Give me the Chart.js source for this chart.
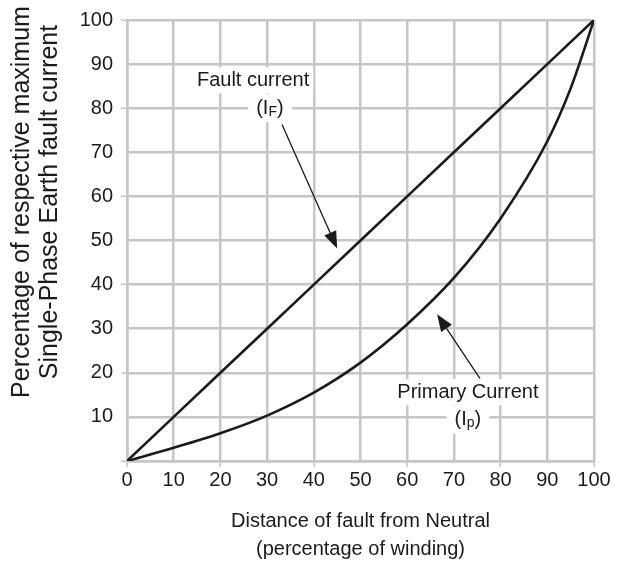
<!DOCTYPE html>
<html>
<head>
<meta charset="utf-8">
<script src="https://cdn.jsdelivr.net/npm/chart.js@4"></script>
<style>
  html, body { margin: 0; padding: 0; background: #fff; }
  #wrap { width: 619px; height: 565px; }
</style>
</head>
<body>
<div id="wrap"><canvas id="faultChart"></canvas></div>
<script>
// distance of fault from neutral (% of winding)
const faultDistance = [0, 10, 20, 30, 40, 50, 60, 70, 80, 90, 100];
const faultCurrent = [0, 10, 20, 30, 40, 50, 60, 70, 80, 90, 100];
const primaryDistance = [0, 10, 20, 30, 40, 50, 60, 70, 80, 90, 95, 100];
const primaryCurrent = [0, 3, 6.3, 10.3, 15.5, 22.3, 31, 41.5, 55, 72.5, 84.5, 100];
const tickValues = [0, 10, 20, 30, 40, 50, 60, 70, 80, 90, 100];

const xTitle = ['Distance of fault from Neutral', '(percentage of winding)'];
const yTitle = ['Percentage of respective maximum', 'Single-Phase Earth fault current'];

const FONT = "'Liberation Sans', Arial, sans-serif";
const GRID = '#c6c6c6';
const INK = '#1b1b1b';

// callouts, in data units
const callouts = [
  { text: 'Fault current', sub: 'F', at: [27, 86.3], subAt: [30.6, 80], from: [33.2, 76.3], to: [45, 48.2] },
  { text: 'Primary Current', sub: 'p', at: [73, 15.6], subAt: [73, 9.4], from: [75.6, 18.7], to: [66.4, 33.3] }
];

const toPoints = (xs, ys) => xs.map((x, i) => ({ x: x, y: ys[i] }));

function drawArrow(ctx, x1, y1, x2, y2) {
  const ang = Math.atan2(y2 - y1, x2 - x1);
  const len = 17, half = 6.5;
  const bx = x2 - len * Math.cos(ang), by = y2 - len * Math.sin(ang);
  ctx.strokeStyle = INK;
  ctx.lineWidth = 1.3;
  ctx.beginPath();
  ctx.moveTo(x1, y1);
  ctx.lineTo(bx, by);
  ctx.stroke();
  ctx.fillStyle = INK;
  ctx.beginPath();
  ctx.moveTo(x2, y2);
  ctx.lineTo(bx + half * Math.sin(ang), by - half * Math.cos(ang));
  ctx.lineTo(bx - half * Math.sin(ang), by + half * Math.cos(ang));
  ctx.closePath();
  ctx.fill();
}

const extras = {
  id: 'extras',
  afterDraw(chart) {
    const ctx = chart.ctx;
    const xs = chart.scales.x, ys = chart.scales.y;
    ctx.save();

    callouts.forEach(c => {
      // main label
      ctx.font = '20px ' + FONT;
      ctx.textAlign = 'center';
      ctx.textBaseline = 'middle';
      const lx = xs.getPixelForValue(c.at[0]), ly = ys.getPixelForValue(c.at[1]);
      const w = ctx.measureText(c.text).width;
      ctx.fillStyle = '#fff';
      ctx.fillRect(lx - w / 2 - 4, ly - 13, w + 8, 26);
      ctx.fillStyle = INK;
      ctx.fillText(c.text, lx, ly);

      // (I_sub)
      const sx = xs.getPixelForValue(c.subAt[0]), sy = ys.getPixelForValue(c.subAt[1]);
      ctx.font = '20px ' + FONT;
      const wOpen = ctx.measureText('(I').width;
      const wClose = ctx.measureText(')').width;
      ctx.font = '14px ' + FONT;
      const wSub = ctx.measureText(c.sub).width;
      const total = wOpen + wSub + wClose;
      ctx.fillStyle = '#fff';
      ctx.fillRect(sx - total / 2 - 8, sy - 14, total + 16, 28);
      ctx.fillStyle = INK;
      ctx.textAlign = 'left';
      let px = sx - total / 2;
      ctx.font = '20px ' + FONT;
      ctx.fillText('(I', px, sy);
      px += wOpen;
      ctx.font = '14px ' + FONT;
      ctx.fillText(c.sub, px, sy + 4);
      px += wSub;
      ctx.font = '20px ' + FONT;
      ctx.fillText(')', px, sy);

      drawArrow(ctx,
        xs.getPixelForValue(c.from[0]), ys.getPixelForValue(c.from[1]),
        xs.getPixelForValue(c.to[0]), ys.getPixelForValue(c.to[1]));
    });

    // axis titles
    ctx.fillStyle = INK;
    ctx.textAlign = 'center';
    ctx.textBaseline = 'middle';
    ctx.font = '20px ' + FONT;
    const cx = (xs.left + xs.right) / 2;
    ctx.fillText(xTitle[0], cx, xs.bottom - 44);
    ctx.fillText(xTitle[1], cx, xs.bottom - 16);

    ctx.font = '25px ' + FONT;
    ctx.translate(22, 202);
    ctx.rotate(-Math.PI / 2);
    ctx.fillText(yTitle[0], 0, 0);
    ctx.fillText(yTitle[1], 0, 28);
    ctx.restore();
  }
};

const tickFont = { family: FONT, size: 20 };
const majorTick = c => (c.tick && c.tick.value % 20 === 0) ? GRID : 'rgba(0,0,0,0)';

new Chart(document.getElementById('faultChart'), {
  type: 'line',
  data: {
    datasets: [
      {
        label: 'Fault current (IF)',
        data: toPoints(faultDistance, faultCurrent),
        borderColor: INK,
        borderWidth: 2.6,
        pointRadius: 0,
        tension: 0
      },
      {
        label: 'Primary Current (Ip)',
        data: toPoints(primaryDistance, primaryCurrent),
        borderColor: INK,
        borderWidth: 2.6,
        pointRadius: 0,
        cubicInterpolationMode: 'monotone'
      }
    ]
  },
  options: {
    responsive: true,
    maintainAspectRatio: false,
    animation: false,
    layout: { padding: { top: 16, right: 25, left: 0, bottom: 0 } },
    plugins: {
      legend: { display: false },
      tooltip: { enabled: false }
    },
    scales: {
      x: {
        type: 'linear',
        min: 0,
        max: 100,
        afterBuildTicks: s => { s.ticks = tickValues.map(v => ({ value: v })); },
        afterFit: s => { s.height = 104; },
        ticks: { font: tickFont, color: INK, padding: 1, maxRotation: 0 },
        grid: { color: GRID, lineWidth: 2.5, tickColor: majorTick, tickLength: 6, tickWidth: 1.5 },
        border: { color: GRID, width: 2.5 }
      },
      y: {
        type: 'linear',
        min: 0,
        max: 100,
        afterBuildTicks: s => { s.ticks = tickValues.map(v => ({ value: v })); },
        afterFit: s => { s.width = 127; },
        ticks: {
          font: tickFont,
          color: INK,
          padding: 8,
          callback: v => v === 0 ? '' : v
        },
        grid: { color: GRID, lineWidth: 2.5, tickColor: majorTick, tickLength: 6, tickWidth: 1.5 },
        border: { color: GRID, width: 2.5 }
      }
    }
  },
  plugins: [extras]
});
</script>
</body>
</html>
